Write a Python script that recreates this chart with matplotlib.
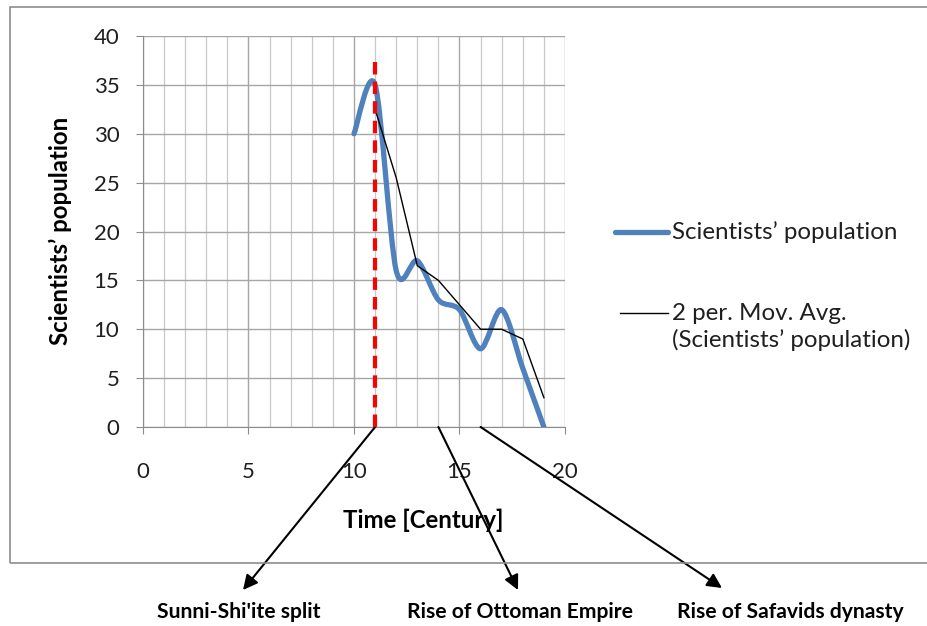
import matplotlib
matplotlib.use('Agg')
import matplotlib.pyplot as plt
import numpy as np
import pandas as pd
from matplotlib.path import Path
from matplotlib.patches import PathPatch, Rectangle
from matplotlib.lines import Line2D

century = [10, 11, 12, 13, 14, 15, 16, 17, 18, 19]
scientists = [30, 35, 16, 17, 13, 12, 8, 12, 6, 0]
split_century = 11
events = ["Sunni-Shi'ite split", "Rise of Ottoman Empire", "Rise of Safavids dynasty"]
event_x = [11, 14, 16]

# 2 period moving average (Excel trendline)
mov_avg = pd.Series(scientists, index=century).rolling(2).mean().dropna()

plt.rcParams['font.family'] = ['Lato', 'DejaVu Sans']
W, H = 928, 626

fig = plt.figure(figsize=(9.28, 6.26), dpi=100)
ax = fig.add_axes([143/W, 1-427/H, (565-143)/W, (427-36)/H])

# outer chart border
fig.add_artist(Rectangle((10/W, 1-563/H), 1.0, (563-7)/H, transform=fig.transFigure,
                         fill=False, edgecolor='#8c8c8c', lw=1.2))

ax.set_xlim(0, 20)
ax.set_ylim(0, 40)
ax.set_xticks(np.arange(0, 21, 5))
ax.set_xticks(np.arange(0, 21, 1), minor=True)
ax.set_yticks(np.arange(0, 41, 5))
ax.grid(True, which='major', color='#a6a6a6', lw=1.0)
ax.grid(True, which='minor', axis='x', color='#c8c8c8', lw=0.9)
ax.set_axisbelow(True)
for s in ['top', 'right']:
    ax.spines[s].set_visible(False)
for s in ['left', 'bottom']:
    ax.spines[s].set_color('#8c8c8c')
ax.tick_params(axis='both', which='major', direction='out', length=5, color='#8c8c8c')
ax.tick_params(axis='x', which='minor', length=0)
ax.tick_params(axis='x', which='major', pad=20, labelsize=16, labelcolor='#1f1f1f')
ax.tick_params(axis='y', which='major', pad=12, labelsize=16, labelcolor='#1f1f1f')

# smoothed series line (bezier through the points, like Excel smoothing)
pts = np.column_stack([century, scientists]).astype(float)
n = len(pts)
k = 0.15
verts = [pts[0]]
codes = [Path.MOVETO]
for i in range(n - 1):
    p0 = pts[max(i - 1, 0)]
    p1 = pts[i]
    p2 = pts[i + 1]
    p3 = pts[min(i + 2, n - 1)]
    verts += [p1 + (p2 - p0) * k, p2 - (p3 - p1) * k, p2]
    codes += [Path.CURVE4] * 3
ax.add_patch(PathPatch(Path(verts, codes), fill=False, edgecolor='#4f81bd', lw=3.8,
                       capstyle='round', joinstyle='round', zorder=3))

ax.plot(mov_avg.index, mov_avg.values, color='black', lw=1, zorder=4)
ax.plot([split_century, split_century], [0, 37.5], color='red', lw=3, ls=(0, (3, 1.7)), zorder=5)

# legend, drawn by hand so the key sits on the first text line
fig.add_artist(Line2D([615/W, 668/W], [1-232/H]*2, color='#4f81bd', lw=3.8,
                      solid_capstyle='round', transform=fig.transFigure))
fig.add_artist(Line2D([620/W, 668/W], [1-313/H]*2, color='black', lw=1, transform=fig.transFigure))
fig.text(672/W, 1-232/H, "Scientists\u2019 population", ha='left', va='center', fontsize=17.4, color='#1f1f1f')
fig.text(672/W, 1-313/H, "2 per. Mov. Avg.", ha='left', va='center', fontsize=17.4, color='#1f1f1f')
fig.text(672/W, 1-340/H, "(Scientists\u2019 population)", ha='left', va='center', fontsize=17.4, color='#1f1f1f')

fig.text(60/W, 1-231/H, "Scientists\u2019 population", rotation=90, ha='center', va='center',
         fontsize=17.3, fontweight='bold')
fig.text(423/W, 1-520/H, "Time [Century]", ha='center', va='center', fontsize=17.3, fontweight='bold')

arrow_end = [(243, 36), (518, 36), (722, 38)]
label_x = [239, 520, 790]
for ev, ex, end, lx in zip(events, event_x, arrow_end, label_x):
    ax.annotate('', xy=end, xycoords='figure pixels', xytext=(ex, 0), textcoords='data',
                arrowprops=dict(arrowstyle='-|>', color='black', lw=1.5, mutation_scale=22,
                                shrinkA=0, shrinkB=0), annotation_clip=False)
    fig.text(lx/W, 14/H, ev, ha='center', va='center', fontsize=15.2, fontweight='bold')

fig.savefig('out.png', dpi=100)
